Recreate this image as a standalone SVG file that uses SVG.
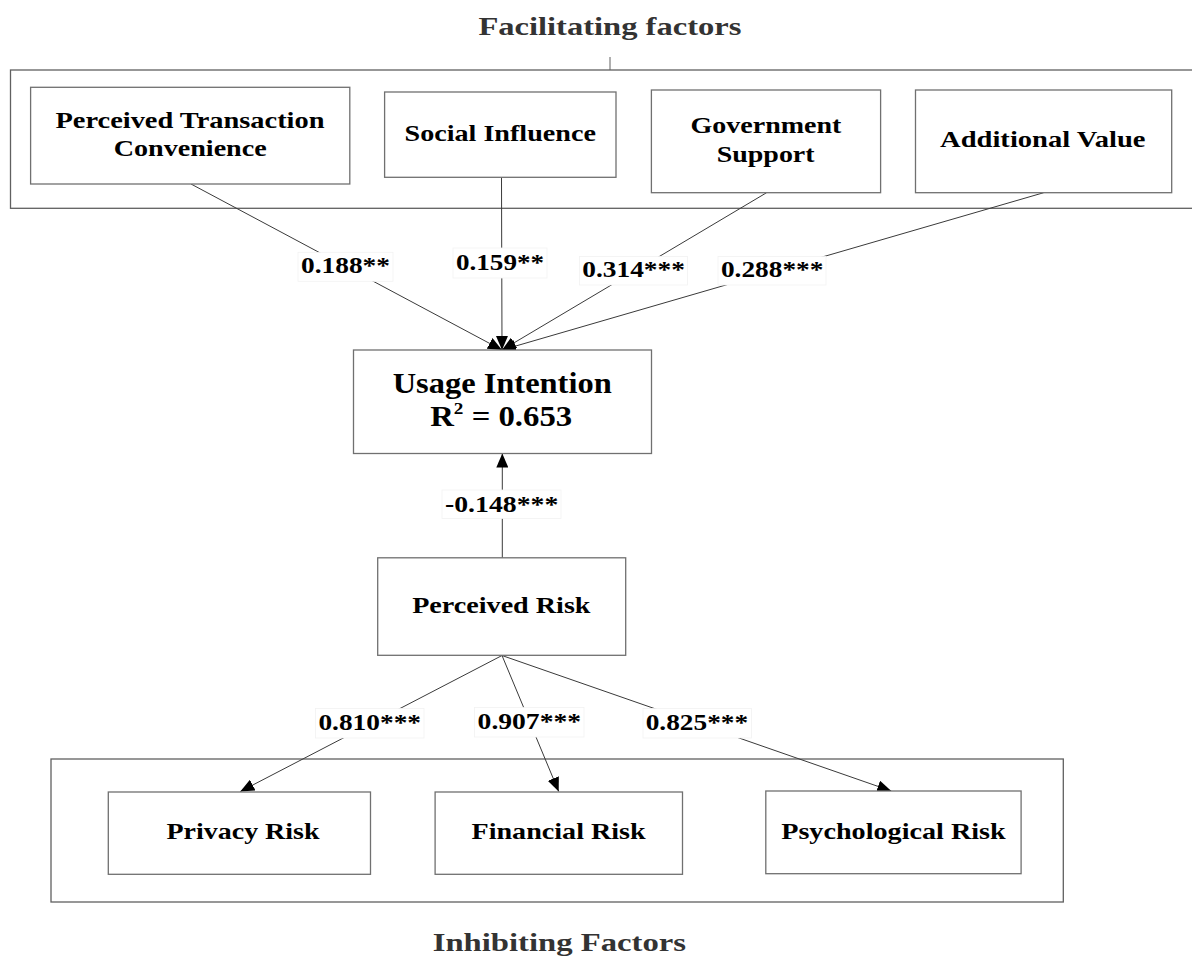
<svg xmlns="http://www.w3.org/2000/svg" width="1192" height="958" viewBox="0 0 1192 958">
<style>
  .box { fill: #ffffff; stroke: #707070; stroke-width: 1.3; }
  .grp { fill: none; stroke: #606060; stroke-width: 1.3; }
  .t { font-family: "Liberation Serif", "Times New Roman", serif; font-weight: bold; fill: #000; }
  .n { font-size: 23.5px; }
  .lbl { font-size: 23px; }
  .title { font-size: 26px; fill: #333333; }
  .edge { stroke: #3a3a3a; stroke-width: 1; fill: none; marker-end: url(#arr); }
  .bg { fill: #ffffff; stroke: #f2f2f2; stroke-width: 0.8; }
</style>
<defs>
  <marker id="arr" markerUnits="userSpaceOnUse" markerWidth="14" markerHeight="12" refX="14" refY="6" orient="auto">
    <path d="M0,0 L14,6 L0,12 z" fill="#000"/>
  </marker>
</defs>
<rect width="1192" height="958" fill="#ffffff"/>

<g id="facilitating-group">
  <rect class="grp" x="10.5" y="70" width="1185" height="138.3"/>
  <line x1="610" y1="57" x2="610" y2="70" stroke="#606060" stroke-width="1"/>
  <text class="t title" x="478.4" y="35" textLength="263" lengthAdjust="spacingAndGlyphs">Facilitating factors</text>
</g>

<g id="inhibiting-group">
  <rect class="grp" x="51" y="759" width="1012.3" height="143"/>
  <text class="t title" x="432.7" y="951" textLength="253.3" lengthAdjust="spacingAndGlyphs">Inhibiting Factors</text>
</g>

<g id="connectors">
  <line class="edge" x1="191" y1="184" x2="502" y2="350"/>
  <line class="edge" x1="501.5" y1="177.3" x2="502" y2="350"/>
  <line class="edge" x1="766.6" y1="192.7" x2="502" y2="350"/>
  <line class="edge" x1="1043.7" y1="192.7" x2="502" y2="350"/>
  <line class="edge" x1="502.3" y1="558" x2="502.3" y2="453.5"/>
  <line class="edge" x1="502" y1="655.5" x2="240.3" y2="791.5"/>
  <line class="edge" x1="502" y1="655.5" x2="558.7" y2="791.5"/>
  <line class="edge" x1="502" y1="655.5" x2="891.3" y2="791"/>

  <rect class="bg" x="298" y="252.3" width="95" height="29"/>
  <text class="t lbl" x="301" y="273.3" textLength="89" lengthAdjust="spacingAndGlyphs">0.188**</text>
  <rect class="bg" x="453" y="248" width="94" height="30"/>
  <text class="t lbl" x="456" y="270" textLength="88" lengthAdjust="spacingAndGlyphs">0.159**</text>
  <rect class="bg" x="579.5" y="256.5" width="108" height="28.5"/>
  <text class="t lbl" x="582.3" y="277.3" textLength="102.6" lengthAdjust="spacingAndGlyphs">0.314***</text>
  <rect class="bg" x="718" y="256.5" width="108" height="28.5"/>
  <text class="t lbl" x="720.9" y="276.7" textLength="102.5" lengthAdjust="spacingAndGlyphs">0.288***</text>
  <rect class="bg" x="442" y="490" width="119" height="28.5"/>
  <text class="t lbl" x="445" y="511.7" textLength="113.3" lengthAdjust="spacingAndGlyphs">-0.148***</text>
  <rect class="bg" x="315.5" y="708.5" width="108.5" height="29.5"/>
  <text class="t lbl" x="318.4" y="729.9" textLength="102.6" lengthAdjust="spacingAndGlyphs">0.810***</text>
  <rect class="bg" x="474.5" y="707.5" width="109.5" height="29.5"/>
  <text class="t lbl" x="477.6" y="728.8" textLength="103.4" lengthAdjust="spacingAndGlyphs">0.907***</text>
  <rect class="bg" x="643" y="708.5" width="108.5" height="29.5"/>
  <text class="t lbl" x="645.7" y="729.9" textLength="102.5" lengthAdjust="spacingAndGlyphs">0.825***</text>
</g>

<g id="ptc">
  <rect class="box" x="30.6" y="87.3" width="319.2" height="96.7"/>
  <text class="t n" x="55.5" y="128.3" textLength="269" lengthAdjust="spacingAndGlyphs">Perceived Transaction</text>
  <text class="t n" x="113.7" y="156" textLength="153" lengthAdjust="spacingAndGlyphs">Convenience</text>
</g>
<g id="social-influence">
  <rect class="box" x="384.6" y="92" width="231.4" height="85.3"/>
  <text class="t n" x="404.5" y="140.7" textLength="191.4" lengthAdjust="spacingAndGlyphs">Social Influence</text>
</g>
<g id="government-support">
  <rect class="box" x="651.4" y="90" width="229.2" height="102.7"/>
  <text class="t n" x="690.6" y="133.3" textLength="150.8" lengthAdjust="spacingAndGlyphs">Government</text>
  <text class="t n" x="716.7" y="161.7" textLength="97.9" lengthAdjust="spacingAndGlyphs">Support</text>
</g>
<g id="additional-value">
  <rect class="box" x="915.5" y="90" width="256.2" height="102.7"/>
  <text class="t n" x="940.1" y="147.3" textLength="205.4" lengthAdjust="spacingAndGlyphs">Additional Value</text>
</g>
<g id="usage-intention">
  <rect class="box" x="353.5" y="350" width="298" height="103.5"/>
  <text class="t" style="font-size:29px" x="392.7" y="393.3" textLength="219" lengthAdjust="spacingAndGlyphs">Usage Intention</text>
  <text class="t" style="font-size:29px" transform="translate(501.2,425.7) scale(1.13,1)" text-anchor="middle">R<tspan dy="-12" style="font-size:17px">2</tspan><tspan dy="12"> = 0.653</tspan></text>
</g>
<g id="perceived-risk">
  <rect class="box" x="377.7" y="557.8" width="248" height="97.5"/>
  <text class="t n" x="412.2" y="613.3" textLength="178.3" lengthAdjust="spacingAndGlyphs">Perceived Risk</text>
</g>
<g id="privacy-risk">
  <rect class="box" x="108.3" y="792" width="262.2" height="82.3"/>
  <text class="t n" x="166.5" y="839" textLength="153" lengthAdjust="spacingAndGlyphs">Privacy Risk</text>
</g>
<g id="financial-risk">
  <rect class="box" x="435.1" y="792" width="247.4" height="82.3"/>
  <text class="t n" x="471.5" y="839" textLength="174.2" lengthAdjust="spacingAndGlyphs">Financial Risk</text>
</g>
<g id="psychological-risk">
  <rect class="box" x="765.8" y="791" width="255.3" height="82.7"/>
  <text class="t n" x="781.2" y="839" textLength="224.5" lengthAdjust="spacingAndGlyphs">Psychological Risk</text>
</g>
</svg>
